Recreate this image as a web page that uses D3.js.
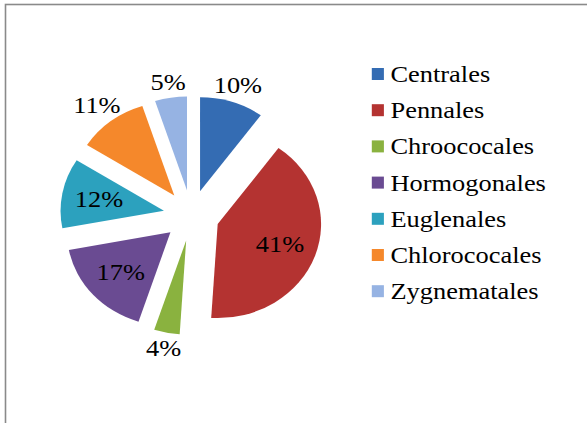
<!DOCTYPE html>
<html>
<head>
<meta charset="utf-8">
<script src="https://cdn.jsdelivr.net/npm/d3@7/dist/d3.min.js"></script>
<style>
  html, body { margin: 0; padding: 0; background: #fff; }
  svg { display: block; }
</style>
</head>
<body>
<div id="chart"></div>
<script>
// Phytoplankton orders, share of total (%)
const categories = ["Centrales", "Pennales", "Chroococales", "Hormogonales", "Euglenales", "Chlorococales", "Zygnematales"];
const values = [10, 41, 4, 17, 12, 11, 5];
const colors = ["#346CB3", "#B43331", "#8AB23F", "#6A4B92", "#2CA1BE", "#F5882B", "#96B3E3"];

const W = 587, H = 423;
const sx = 1.1;                 // horizontal stretch of the drawing
const cx = 174, cy = 215.5;     // pie centre (unstretched units)
const R = 94;                   // pie radius
const explode = 25.4;           // distance each slice is pulled out
const insideMin = 12;           // slices at least this large carry their label inside
const serif = "'Liberation Serif', 'Times New Roman', Tinos, 'DejaVu Serif', serif";

const svg = d3.select("#chart").append("svg")
  .attr("width", W).attr("height", H)
  .attr("font-family", serif);

// chart frame
svg.append("rect")
  .attr("x", 5.5).attr("y", 4.5)
  .attr("width", W + 20).attr("height", H + 20)
  .attr("fill", "none").attr("stroke", "#8a8a8a").attr("stroke-width", 1.6);

const g = svg.append("g").attr("transform", `scale(${sx},1)`);

const pie = d3.pie().sort(null).value(d => d);
const arcs = pie(values);
const arc = d3.arc().innerRadius(0).outerRadius(R);

const mid = d => (d.startAngle + d.endAngle) / 2;
const tip = d => [cx + Math.sin(mid(d)) * explode, cy - Math.cos(mid(d)) * explode];

g.append("g").selectAll("path")
  .data(arcs)
  .join("path")
  .attr("transform", d => `translate(${tip(d)[0]},${tip(d)[1]})`)
  .attr("d", arc)
  .attr("fill", (d, i) => colors[i]);

// percentage labels
const fontSize = 24;
const labelG = g.append("g")
  .attr("font-size", fontSize).attr("text-anchor", "middle")
  .style("font-family", serif);
labelG.selectAll("text")
  .data(arcs)
  .join("text")
  .attr("x", d => labelPos(d)[0])
  .attr("y", d => labelPos(d)[1])
  .attr("dy", "0.33em")
  .attr("fill", "#000")
  .text(d => d.data + "%");

function labelPos(d) {
  const a = mid(d);
  const [tx, ty] = tip(d);
  const w = (String(d.data).length + 1.7) * fontSize * 0.5;
  const r = d.data >= insideMin ? R * 0.64 : R + 14 + (w / 2) * Math.abs(Math.sin(a)) * 0.5;
  return [tx + Math.sin(a) * r, ty - Math.cos(a) * r];
}

// legend
const legX = 338, legY = 74, legStep = 36.2;
const leg = g.append("g").attr("font-size", fontSize).style("font-family", serif);
const rows = leg.selectAll("g")
  .data(categories)
  .join("g")
  .attr("transform", (d, i) => `translate(${legX},${legY + i * legStep})`);
rows.append("rect")
  .attr("x", 0).attr("y", -6).attr("width", 11).attr("height", 12)
  .attr("fill", (d, i) => colors[i]);
rows.append("text")
  .attr("x", 17).attr("y", 8)
  .attr("fill", "#000")
  .text(d => d);
</script>
</body>
</html>
